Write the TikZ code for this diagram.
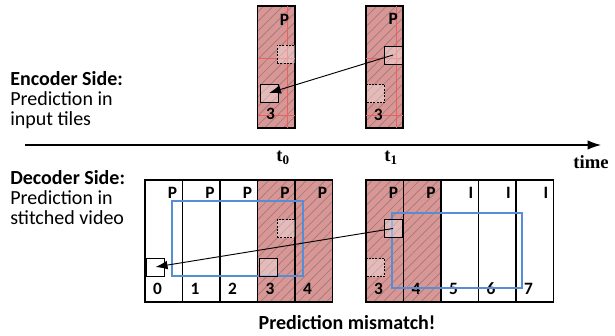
\documentclass[tikz,border=0pt]{standalone}
\usepackage{fontspec}
\setmainfont{Carlito}
\newfontfamily\timefont{Liberation Serif}
\usetikzlibrary{arrows.meta, patterns.meta}

\definecolor{tilered}{RGB}{217,150,148}
\definecolor{hatchgray}{RGB}{150,125,125}
\definecolor{roiblue}{RGB}{85,142,213}
\definecolor{gridred}{RGB}{232,96,96}

\tikzset{
	tile/.style={draw, line width=1.4pt, inner sep=0pt, minimum width=28.125pt, minimum height=91.5pt},
	hatched/.style={tile, preaction={fill=tilered}, pattern={Lines[angle=45, distance=5pt, line width=0.5pt]}, pattern color=hatchgray},
	blk/.style={draw, line width=0.7pt, inner sep=0pt, minimum size=13.5pt, fill=white, fill opacity=0.35},
	dotblk/.style={blk, dash pattern=on 1.5pt off 1pt},
	roi/.style={draw=roiblue, line width=1.6pt, inner sep=0pt, minimum width=98pt, minimum height=56.25pt},
	ftype/.style={font=\bfseries\fontsize{13}{13}\selectfont, inner sep=0pt, anchor=north east, xshift=-4.5pt, yshift=-6pt},
	tnum/.style={font=\bfseries\fontsize{13}{13}\selectfont, inner sep=0pt, anchor=south west, xshift=6.5pt, yshift=6pt},
	side/.style={align=left, inner sep=0pt, anchor=north west, font=\fontsize{15}{15}\selectfont},
	tlabel/.style={font=\timefont\bfseries\fontsize{14}{14}\selectfont, inner sep=0pt},
	mv/.style={-{Latex[length=9pt, width=6.5pt]}, line width=0.7pt},
}

\begin{document}
\begin{tikzpicture}[x=0.75pt, y=-0.75pt]
	\useasboundingbox (0, 0) rectangle (615, 336);
	% Encoder side: input tiles
	\node[hatched] (t0) at (276.25, 67) {};
	\node[hatched] (t1) at (384.5, 67) {};
	\draw[gridred, line width=0.4pt] (287, 6) -- (287, 128) (257.5, 58) -- (295, 58) (257.5, 115) -- (295, 115);
	\draw[gridred, line width=0.4pt] (396, 6) -- (396, 128) (365.75, 58) -- (403.25, 58) (365.75, 115) -- (403.25, 115);
	\node[ftype] (pt0) at (t0.north east) {P};
	\node[ftype] (pt1) at (t1.north east) {P};
	\node[tnum] (nt0) at (t0.south west) {3};
	\node[tnum] (nt1) at (t1.south west) {3};
	\node[dotblk] (ref0) at (286, 54) {};
	\node[blk] (cur0) at (269, 93) {};
	\node[blk] (cur1) at (393, 55) {};
	\node[dotblk] (ref1) at (375.5, 93.5) {};
	\draw[mv] (cur1.center) -- (cur0.center);
	% Time axis
	\coordinate (tstart) at (25, 145);
	\coordinate (tend) at (601, 145);
	\draw[-{Latex[length=10pt, width=7pt]}, line width=0.8pt] (tstart) -- (tend);
	\node[tlabel] (lt0) at (283, 158) {t\textsubscript{0}};
	\node[tlabel] (lt1) at (391, 158) {t\textsubscript{1}};
	\node[tlabel] (ltime) at (591, 162) {time};
	% Decoder side: stitched video
	\node[tile] (a0) at (163.75, 241) {};
	\node[tile] (a1) at (201.25, 241) {};
	\node[tile] (a2) at (238.75, 241) {};
	\node[hatched] (a3) at (276.25, 241) {};
	\node[hatched] (a4) at (313.75, 241) {};
	\node[hatched] (b3) at (384.75, 241) {};
	\node[hatched] (b4) at (422.25, 241) {};
	\node[tile] (b5) at (459.75, 241) {};
	\node[tile] (b6) at (497.25, 241) {};
	\node[tile] (b7) at (534.75, 241) {};
	\node[ftype] at (a0.north east) {P};
	\node[ftype] at (a1.north east) {P};
	\node[ftype] at (a2.north east) {P};
	\node[ftype] at (a3.north east) {P};
	\node[ftype] at (a4.north east) {P};
	\node[ftype] at (b3.north east) {P};
	\node[ftype] at (b4.north east) {P};
	\node[ftype] at (b5.north east) {I};
	\node[ftype] at (b6.north east) {I};
	\node[ftype] at (b7.north east) {I};
	\node[tnum] at (a0.south west) {0};
	\node[tnum] at (a1.south west) {1};
	\node[tnum] at (a2.south west) {2};
	\node[tnum] at (a3.south west) {3};
	\node[tnum] at (a4.south west) {4};
	\node[tnum] at (b3.south west) {3};
	\node[tnum] at (b4.south west) {4};
	\node[tnum] at (b5.south west) {5};
	\node[tnum] at (b6.south west) {6};
	\node[tnum] at (b7.south west) {7};
	\node[roi] (roia) at (237.5, 238.5) {};
	\node[roi] (roib) at (457, 250.5) {};
	\node[blk] (cura) at (155.5, 267) {};
	\node[dotblk] (refa) at (286, 228.5) {};
	\node[blk] (cura3) at (268, 267) {};
	\node[blk] (curb) at (393, 228.5) {};
	\node[dotblk] (refb) at (375.5, 267.5) {};
	\draw[mv] (curb.center) -- (cura.center);
	% Side labels
	\node[side] (enc) at (10, 71) {\textbf{Encoder Side:}\\Prediction in\\input tiles};
	\node[side] (dec) at (10, 170) {\textbf{Decoder Side:}\\Prediction in\\stitched video};
	\node[font=\bfseries\fontsize{15}{15}\selectfont, inner sep=0pt] (mis) at (347, 323) {Prediction mismatch!};
\end{tikzpicture}
\end{document}
